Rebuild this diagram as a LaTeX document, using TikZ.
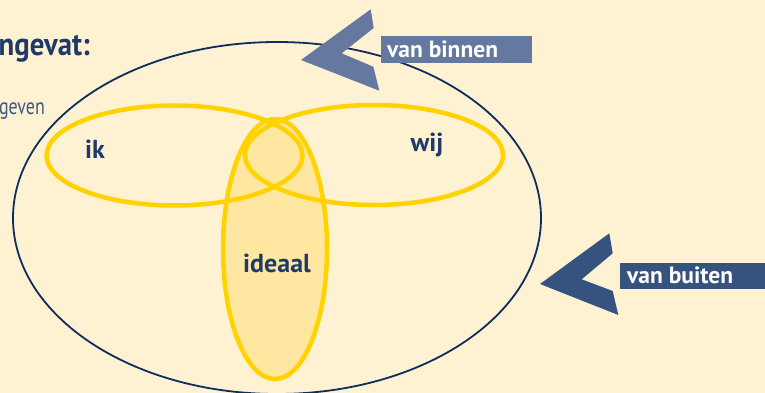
\documentclass[tikz,border=0pt]{standalone}
\usepackage{fontspec}
\setmainfont{PT Sans}
\definecolor{bg}{HTML}{FFF2D3}
\definecolor{navy}{HTML}{0E2D5C}
\definecolor{txtnavy}{HTML}{1E3A6A}
\definecolor{gold}{HTML}{FFD200}
\definecolor{ideal}{HTML}{FFE7A2}
\definecolor{slate}{HTML}{6478A0}
\definecolor{deepblue}{HTML}{36537F}
\tikzset{
  ring/.style={draw=gold, line width=4.5pt},
  lbl/.style={font=\bfseries\fontsize{26}{26}\selectfont, text=txtnavy, anchor=base, inner sep=0pt},
  tag/.style={font=\bfseries\fontsize{23.5}{23.5}\selectfont, text=white, anchor=base west, inner sep=0pt},
}
\begin{document}
\begin{tikzpicture}[x=1pt,y=-1pt]
\useasboundingbox (0,0) rectangle (765,393);
\clip (0,0) rectangle (765,393);
\fill[bg] (0,0) rectangle (765,393);
% headings
\node[font=\bfseries\fontsize{32}{32}\selectfont, text=txtnavy, anchor=base east, inner sep=0pt, xscale=0.9, transform shape] (head) at (90,56) {ngevat:};
\node[font=\fontsize{23}{23}\selectfont, text=txtnavy!85, anchor=base east, inner sep=0pt, xscale=0.78, transform shape] (sub) at (45,114) {geven};
% outer ellipse
\draw[navy, line width=1.8pt] (277,218) ellipse [x radius=264, y radius=176];
% ideaal fill
\fill[ideal] (275,249) ellipse [x radius=52, y radius=130];
% ik & wij
\draw[ring] (174.5,155.5) ellipse [x radius=128, y radius=50];
\draw[ring] (374,155) ellipse [x radius=129, y radius=50];
\draw[ring] (275,249) ellipse [x radius=52, y radius=130];
% labels
\node[lbl] (ik) at (95,158) {ik};
\node[lbl] (wij) at (427,151) {wij};
\node[lbl] (ideaal) at (277,272) {ideaal};
% van binnen
\fill[slate] (301,60) -- (370.7,9.3) -- (373.7,28) -- (341.7,53.3) -- (373.3,66.7) -- (379.3,90.7) -- cycle;
\fill[slate] (381,36) rectangle (531.7,62.7);
\node[tag] (binnen) at (387,57.3) {van binnen};
% van buiten
\fill[deepblue] (540,284) -- (609.3,233.3) -- (612.7,253.3) -- (581.7,279.3) -- (612.7,291) -- (618.3,315) -- cycle;
\fill[deepblue] (620,263.3) rectangle (765,289.3);
\node[tag] (buiten) at (627,283.3) {van buiten};
\end{tikzpicture}
\end{document}
